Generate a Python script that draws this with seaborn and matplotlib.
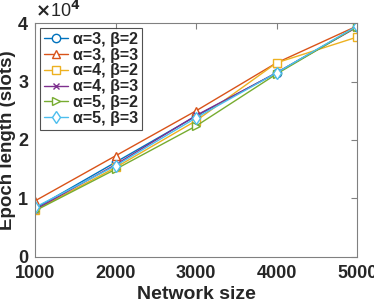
import matplotlib
matplotlib.use('Agg')
import matplotlib.pyplot as plt
import seaborn as sns
import pandas as pd

# network sizes
network_size = [1000, 2000, 3000, 4000, 5000]

# epoch length (slots)
a3_b2 = [8300, 16200, 24100, 31500, 39400]
a3_b3 = [9600, 17300, 25000, 33200, 39500]
a4_b2 = [8000, 15300, 23300, 33200, 37600]
a4_b3 = [8100, 15800, 24200, 31500, 39300]
a5_b2 = [7900, 15000, 22400, 31300, 39400]
a5_b3 = [8500, 15600, 23800, 31500, 39500]

labels = ['α=3, β=2', 'α=3, β=3', 'α=4, β=2',
          'α=4, β=3', 'α=5, β=2', 'α=5, β=3']
series = [a3_b2, a3_b3, a4_b2, a4_b3, a5_b2, a5_b3]
colors = ['#0072BD', '#D95319', '#EDB120', '#7E2F8E', '#77AC30', '#4DBEEE']
markers = ['o', '^', 's', 'x', '>', 'd']

sns.set_style("white")
plt.rcParams['font.family'] = ['Liberation Sans', 'DejaVu Sans']
plt.rcParams['font.weight'] = 'bold'
plt.rcParams['mathtext.fontset'] = 'dejavusans'

fig = plt.figure(figsize=(3.74, 3.03), dpi=100)
ax = fig.add_axes([0.094, 0.152, 0.861, 0.772])

for lab, vals, c, m in zip(labels, series, colors, markers):
    d = pd.DataFrame({'size': network_size, 'epoch': [v / 1e4 for v in vals]})
    sns.lineplot(data=d, x='size', y='epoch', color=c, marker=m, label=lab,
                 linewidth=1.0, markersize=6 if m != 'x' else 4,
                 markerfacecolor='white', markeredgecolor=c,
                 markeredgewidth=1.0, ax=ax)

ax.set_xlim(1000, 5000)
ax.set_ylim(0, 4)
ax.set_xticks(network_size)
ax.set_yticks([0, 1, 2, 3, 4])
ax.tick_params(direction='in', top=True, right=True, length=4, width=0.8,
               colors='#808080', labelcolor='#262626', labelsize=13)
ax.tick_params(axis='x', pad=6)
ax.tick_params(axis='y', pad=5)
for lab in ax.get_xticklabels() + ax.get_yticklabels():
    lab.set_fontweight('bold')
for sp in ax.spines.values():
    sp.set_color('#808080')
    sp.set_linewidth(0.8)

ax.set_xlabel('Network size', fontsize=14, fontweight='bold', color='#262626')
ax.set_ylabel('Epoch length (slots)', fontsize=13.5, fontweight='bold', color='#262626')
ax.xaxis.set_label_coords(0.5, -0.125)
ax.yaxis.set_label_coords(-0.06, 0.5)
ax.text(0.0, 1.01, r'$\times$10$^4$', transform=ax.transAxes, fontsize=13,
        color='#262626', ha='left', va='bottom', fontweight='normal')

leg = ax.legend(loc='upper left', fontsize=11.5, frameon=True, fancybox=False,
                handlelength=1.5, handletextpad=0.3, borderpad=0.25,
                labelspacing=0.05, borderaxespad=0.3)
leg.get_frame().set_edgecolor('#262626')
leg.get_frame().set_linewidth(0.8)
for t in leg.get_texts():
    t.set_fontweight('bold')

fig.savefig('out.png', dpi=100)
